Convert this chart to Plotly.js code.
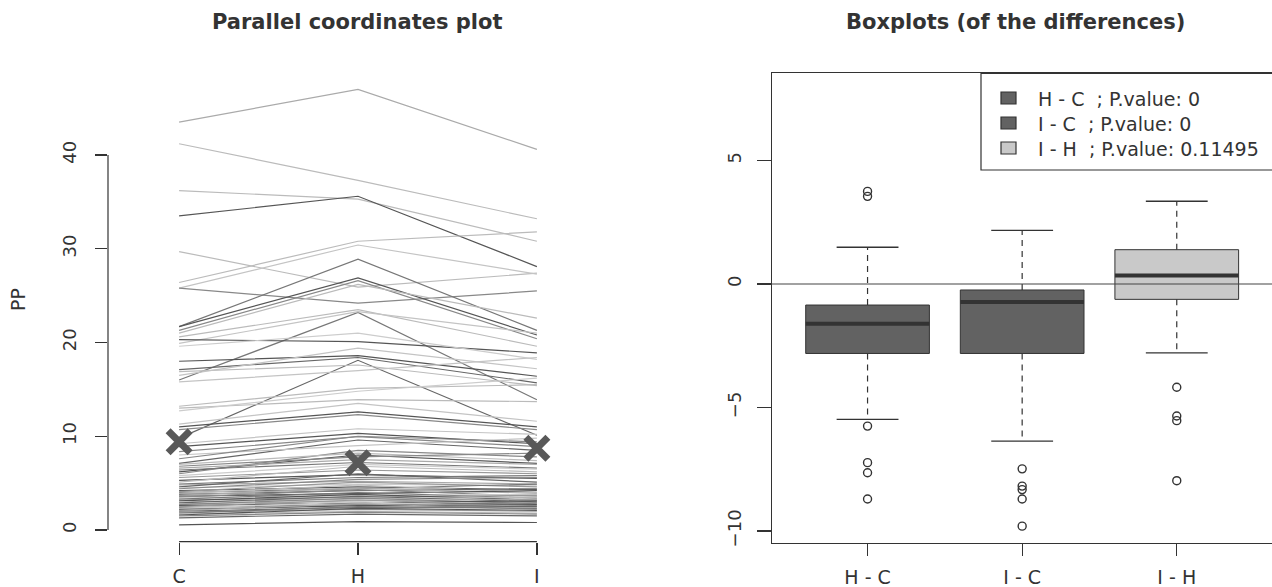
<!DOCTYPE html>
<html><head><meta charset="utf-8">
<script src="https://cdn.plot.ly/plotly-3.0.1.min.js"></script>
<style>html,body{margin:0;padding:0;background:#fff;}</style>
</head><body><div id="chart" style="width:1272px;height:587px;"></div>
<script>
// ---------------- data ----------------
const axesCats = ['C', 'H', 'I'];
const yTicksLeft = [0, 10, 20, 30, 40];
const valC = [43.5, 41.2, 36.2, 33.5, 29.7, 26.4, 25.8, 25.8, 21.7, 21.7, 21.3, 21.0, 20.6, 16.0, 19.9, 20.3, 19.6, 18.0, 17.1, 9.8,
  16.9, 16.5, 15.8, 13.2, 13.0, 12.7, 11.0, 10.7, 11.3, 8.9, 8.35, 7.1, 6.2, 6.0, 9.2, 8.0, 7.6,
  5.6, 5.3, 5.1, 4.9, 4.8, 4.6, 4.5, 4.4, 4.2, 4.1, 4.0, 3.9, 3.8, 3.7, 3.6, 3.5, 3.4, 3.3, 3.2, 3.1, 3.0, 2.9, 2.8, 2.7,
  2.6, 2.5, 2.4, 2.3, 2.2, 2.1, 2.0, 1.9, 1.8, 1.7, 1.6, 1.5, 1.3, 0.55, 6.6, 6.4, 5.8, 7.0, 6.8];
const valH = [47.0, 37.3, 35.3, 35.6, 25.9, 30.8, 30.4, 24.2, 28.9, 26.9, 26.6, 26.2, 23.5, 23.2, 23.3, 20.1, 21.0, 18.6, 18.4, 18.1,
  17.6, 19.4, 17.0, 15.1, 13.9, 14.8, 12.6, 12.3, 13.5, 10.3, 9.95, 9.6, 8.0, 8.5, 10.8, 9.0, 10.0,
  6.4, 5.9, 6.8, 5.6, 5.2, 6.0, 4.9, 5.4, 4.6, 5.1, 4.4, 4.8, 4.2, 4.5, 3.9, 4.3, 3.7, 4.0, 3.5, 3.8, 3.3, 3.6, 3.1, 3.4,
  2.9, 3.2, 2.7, 3.0, 2.6, 2.8, 2.4, 2.2, 2.5, 2.0, 2.3, 1.9, 1.7, 0.9, 7.5, 7.2, 7.0, 8.2, 7.8];
const valI = [40.6, 33.2, 30.8, 28.1, 27.4, 31.8, 27.3, 25.5, 21.3, 20.8, 20.4, 22.6, 19.6, 13.9, 21.0, 18.9, 18.2, 16.4, 15.7, 10.1,
  15.4, 17.2, 18.4, 15.5, 13.7, 16.2, 11.0, 10.7, 11.6, 9.2, 8.9, 8.5, 7.1, 7.8, 10.2, 9.8, 9.4,
  6.0, 5.5, 6.2, 5.8, 4.9, 5.1, 4.7, 5.6, 4.3, 4.6, 4.9, 4.0, 4.4, 3.9, 4.2, 3.6, 3.8, 3.4, 3.7, 3.2, 3.5, 3.0, 3.3, 2.8,
  3.1, 2.6, 2.9, 2.4, 2.7, 2.2, 2.5, 2.0, 2.3, 1.8, 2.1, 1.7, 1.5, 0.8, 7.0, 6.6, 6.5, 7.4, 8.2];
const centerMarks = [9.42, 7.18, 8.71];

const diffLabels = ['H - C', 'I - C', 'I - H'];
const pValues = ['0', '0', '0.11495'];
const q1 = [-2.81, -2.81, -0.62];
const med = [-1.61, -0.73, 0.35];
const q3 = [-0.85, -0.24, 1.39];
const whiskLow = [-5.48, -6.36, -2.79];
const whiskHigh = [1.49, 2.17, 3.35];
const outHC = [3.75, 3.55, -5.75, -7.23, -7.64, -8.70];
const outIC = [-7.48, -8.18, -8.32, -8.70, -9.80];
const outIH = [-4.18, -5.34, -5.53, -7.96];
const yTicksRight = [-10, -5, 0, 5];

// ---------------- styles ----------------
const lineShade = ['#aaaaaa', '#bbbbbb', '#bbbbbb', '#555555', '#bbbbbb', '#bbbbbb', '#c4c4c4', '#888888', '#777777', '#555555',
  '#888888', '#bbbbbb', '#bbbbbb', '#777777', '#c4c4c4', '#555555', '#cccccc', '#555555', '#666666', '#666666',
  '#bbbbbb', '#c4c4c4', '#c4c4c4', '#bbbbbb', '#bbbbbb', '#cccccc', '#555555', '#888888', '#c4c4c4', '#555555', '#888888', '#666666',
  '#555555', '#888888', '#c4c4c4', '#c4c4c4', '#888888',
  '#999999', '#555555', '#bbbbbb', '#777777', '#aaaaaa', '#666666', '#cccccc', '#888888', '#555555', '#999999', '#777777', '#bbbbbb',
  '#666666', '#aaaaaa', '#555555', '#888888', '#cccccc', '#777777', '#999999', '#555555', '#bbbbbb', '#666666', '#aaaaaa', '#888888',
  '#555555', '#999999', '#777777', '#cccccc', '#555555', '#aaaaaa', '#666666', '#999999', '#777777', '#bbbbbb', '#555555', '#888888',
  '#666666', '#555555', '#aaaaaa', '#777777', '#cccccc', '#bbbbbb', '#888888'];
const ink = '#333333';
const boxFill = ['#626262', '#626262', '#c9c9c9'];
const FONT = 'DejaVu Sans, Verdana, sans-serif';
const W = 1272, H = 587;
const px = v => v / W;
const py = v => 1 - v / H;

const traces = [];
// parallel coordinate lines
for (let k = 0; k < valC.length; k++) {
  traces.push({
    type: 'scatter', mode: 'lines', x: [1, 2, 3], y: [valC[k], valH[k], valI[k]],
    line: { color: lineShade[k], width: 1.2 }, hoverinfo: 'skip', xaxis: 'x', yaxis: 'y'
  });
}
traces.push({
  type: 'scatter', mode: 'markers', x: [1, 2, 3], y: centerMarks,
  marker: { symbol: 'x-thin', size: 22, line: { color: '#595959', width: 7 } },
  hoverinfo: 'skip', xaxis: 'x', yaxis: 'y'
});

// boxplots
const outs = [outHC, outIC, outIH];
const bw = 0.4, cw = 0.2;
for (let i = 0; i < 3; i++) {
  const c = i + 1;
  traces.push({
    type: 'scatter', mode: 'lines', x: [c, c, null, c, c], y: [q3[i], whiskHigh[i], null, q1[i], whiskLow[i]],
    line: { color: ink, width: 1.2, dash: '6px,5px' }, hoverinfo: 'skip', xaxis: 'x2', yaxis: 'y2'
  });
  traces.push({
    type: 'scatter', mode: 'lines', x: [c - cw, c + cw, null, c - cw, c + cw], y: [whiskHigh[i], whiskHigh[i], null, whiskLow[i], whiskLow[i]],
    line: { color: ink, width: 1.3 }, hoverinfo: 'skip', xaxis: 'x2', yaxis: 'y2'
  });
  traces.push({
    type: 'scatter', mode: 'lines', x: [c - bw, c + bw, c + bw, c - bw, c - bw], y: [q1[i], q1[i], q3[i], q3[i], q1[i]],
    fill: 'toself', fillcolor: boxFill[i], line: { color: ink, width: 1 }, hoverinfo: 'skip', xaxis: 'x2', yaxis: 'y2'
  });
  traces.push({
    type: 'scatter', mode: 'lines', x: [c - bw, c + bw], y: [med[i], med[i]],
    line: { color: ink, width: 4 }, hoverinfo: 'skip', xaxis: 'x2', yaxis: 'y2'
  });
  traces.push({
    type: 'scatter', mode: 'markers', x: outs[i].map(() => c), y: outs[i],
    marker: { symbol: 'circle-open', size: 8, color: ink, line: { width: 1.4, color: ink } },
    hoverinfo: 'skip', xaxis: 'x2', yaxis: 'y2'
  });
}

const shapes = [
  { type: 'line', xref: 'x', yref: 'y domain', x0: 1, x1: 3, y0: 0, y1: 0, line: { color: ink, width: 1.2 } },
  { type: 'line', xref: 'x domain', yref: 'y', x0: 0, x1: 0, y0: yTicksLeft[0], y1: yTicksLeft[yTicksLeft.length - 1], line: { color: ink, width: 1.2 } },
  { type: 'line', xref: 'x2 domain', yref: 'y2', x0: 0, x1: 1, y0: 0, y1: 0, line: { color: '#444', width: 1.1 } },
  { type: 'rect', xref: 'paper', yref: 'paper', x0: px(981), x1: px(1290), y0: py(170), y1: py(73.3), line: { color: ink, width: 1.2 }, fillcolor: 'white' }
];
const annotations = [
  { text: '<b>Parallel coordinates plot</b>', xref: 'paper', yref: 'paper', x: px(357), y: py(22), xanchor: 'center', yanchor: 'middle', showarrow: false, font: { family: FONT, size: 21, color: ink } },
  { text: '<b>Boxplots (of the differences)</b>', xref: 'paper', yref: 'paper', x: px(1015), y: py(22), xanchor: 'center', yanchor: 'middle', showarrow: false, font: { family: FONT, size: 21, color: ink } },
  { text: 'PP', xref: 'paper', yref: 'paper', x: px(18), y: py(300), xanchor: 'center', yanchor: 'middle', textangle: -90, showarrow: false, font: { family: FONT, size: 19, color: ink } }
];
for (let k = 0; k < 3; k++) {
  const cy = 98 + 25 * k;
  shapes.push({ type: 'rect', xref: 'paper', yref: 'paper', x0: px(1001), x1: px(1016), y0: py(cy + 6), y1: py(cy - 6), line: { color: ink, width: 1.2 }, fillcolor: boxFill[k] });
  annotations.push({
    text: diffLabels[k] + '\u00a0 ; P.value: ' + pValues[k], xref: 'paper', yref: 'paper', x: px(1036), y: py(cy + 1),
    xanchor: 'left', yanchor: 'middle', showarrow: false, font: { family: FONT, size: 19, color: ink }
  });
}

const tickFont = { family: FONT, size: 19, color: ink };
const layout = {
  width: W, height: H, margin: { l: 0, r: 0, t: 0, b: 0 },
  paper_bgcolor: 'white', plot_bgcolor: 'white', showlegend: false,
  xaxis: {
    domain: [px(108), px(620)], range: [0.6026, 3.4645], tickvals: [1, 2, 3], ticktext: axesCats,
    ticks: 'outside', ticklen: 12, tickwidth: 1.2, tickcolor: ink, showline: false, showgrid: false, zeroline: false,
    tickfont: tickFont, ticklabelstandoff: 5, fixedrange: true
  },
  yaxis: {
    domain: [py(541.7), py(73)], range: [-1.25, 48.75], tickvals: yTicksLeft, tickangle: -90,
    ticks: 'outside', ticklen: 12, tickwidth: 1.2, tickcolor: ink, showline: false, showgrid: false, zeroline: false,
    tickfont: { family: FONT, size: 18, color: ink }, ticklabelstandoff: 12, fixedrange: true
  },
  xaxis2: {
    domain: [px(771.7), 1], range: [0.38, 3.616], anchor: 'y2', tickvals: [1, 2, 3], ticktext: diffLabels,
    ticks: 'outside', ticklen: 12, tickwidth: 1.2, tickcolor: ink, showline: true, mirror: true, linecolor: ink, linewidth: 1.2,
    showgrid: false, zeroline: false, tickfont: tickFont, ticklabelstandoff: 5, fixedrange: true
  },
  yaxis2: {
    domain: [py(542.7), py(73.3)], range: [-10.47, 8.53], anchor: 'x2', tickvals: yTicksRight, tickangle: -90,
    ticks: 'outside', ticklen: 14, tickwidth: 1.2, tickcolor: ink, showline: true, mirror: false, linecolor: ink, linewidth: 1.2,
    showgrid: false, zeroline: false, tickfont: { family: FONT, size: 18, color: ink }, ticklabelstandoff: 8, fixedrange: true
  },
  shapes: shapes, annotations: annotations
};
Plotly.newPlot('chart', traces, layout, { staticPlot: true, displayModeBar: false });
</script>
</body></html>
